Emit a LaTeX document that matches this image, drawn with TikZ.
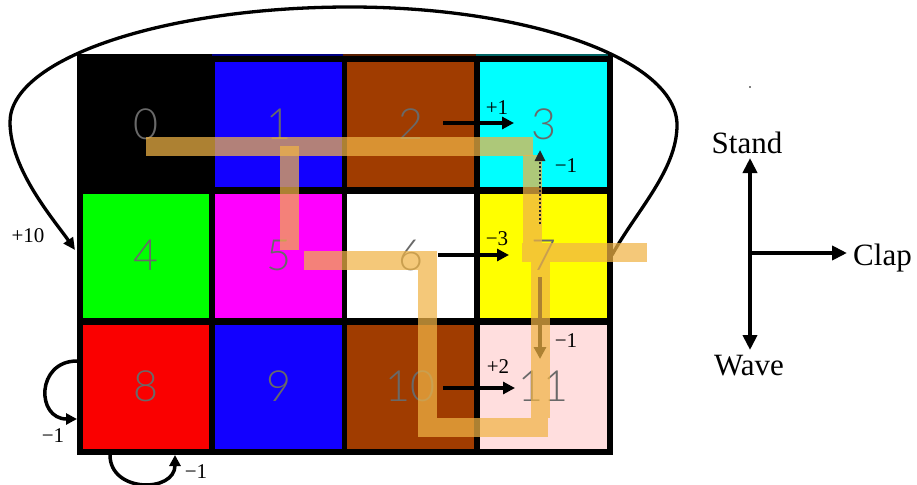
\documentclass[tikz,border=0pt]{standalone}
\usepackage{fontspec}
\setmainfont{Liberation Serif}
\newfontfamily\digitfont{Lato Light}
\usetikzlibrary{arrows.meta}
\definecolor{cblue}{RGB}{18,0,255}
\definecolor{cbrown}{RGB}{160,60,0}
\definecolor{ccyan}{RGB}{0,255,255}
\definecolor{cgreen}{RGB}{0,255,0}
\definecolor{cmag}{RGB}{255,0,255}
\definecolor{cyel}{RGB}{255,255,0}
\definecolor{cred}{RGB}{250,0,0}
\definecolor{cpink}{RGB}{255,222,222}
\definecolor{digitgray}{RGB}{105,105,105}
\definecolor{crayon}{RGB}{240,180,70}
\definecolor{edgeblue}{RGB}{0,0,130}
\definecolor{edgebrown}{RGB}{90,30,0}
\definecolor{edgeteal}{RGB}{0,100,100}
\begin{document}
\begin{tikzpicture}[x=1pt,y=-1pt,
  cell/.style={minimum width=126.5pt, minimum height=124pt, inner sep=0pt, outer sep=0pt,
    font=\digitfont\fontsize{43}{43}\selectfont, text=digitgray},
  arr/.style={line width=3.6pt, -{Triangle[length=12pt,width=12pt]}},
  legarr/.style={line width=4.2pt, -{Triangle[length=15pt,width=14pt]}},
  looparr/.style={line width=3.5pt, -{Triangle[length=11pt,width=11pt]}},
  crayonstroke/.style={line width=19pt, draw=crayon, opacity=0.72, line cap=butt},
  lbl/.style={font=\fontsize{21}{21}\selectfont, inner sep=0pt, anchor=base},
  leglbl/.style={font=\fontsize{31}{31}\selectfont, inner sep=0pt}
]
\useasboundingbox (0,0) rectangle (917,484);
\fill[white] (0,0) rectangle (917,484);

% grid frame
\fill[black] (77,54) rectangle (613,455);
\draw[line width=1.5pt, edgeblue] (212,55.2) -- (343,55.2);
\draw[line width=1.5pt, edgebrown] (343,55.2) -- (476,55.2);
\draw[line width=1.5pt, edgeteal] (476,55.2) -- (608,55.2);

% cells
\node[cell, fill=black] (c0) at (146,124.5) {0};
\node[cell, fill=cblue] (c1) at (278.5,124.5) {1};
\node[cell, fill=cbrown] (c2) at (410.5,124.5) {2};
\node[cell, fill=ccyan] (c3) at (543.5,124.5) {3};
\node[cell, fill=cgreen] (c4) at (146,255.5) {4};
\node[cell, fill=cmag] (c5) at (278.5,255.5) {5};
\node[cell, fill=white] (c6) at (410.5,255.5) {6};
\node[cell, fill=cyel] (c7) at (543.5,255.5) {7};
\node[cell, fill=cred] (c8) at (146,386.5) {8};
\node[cell, fill=cblue] (c9) at (278.5,386.5) {9};
\node[cell, fill=cbrown] (c10) at (410.5,386.5) {10};
\node[cell, fill=cpink] (c11) at (543.5,386.5) {11};

% transition arrows
\coordinate (a23s) at (443,123);
\coordinate (a23e) at (514,123);
\coordinate (a67s) at (438,255);
\coordinate (a67e) at (509,255);
\coordinate (a1011s) at (443,388);
\coordinate (a1011e) at (515,388);
\coordinate (a73s) at (540,224);
\coordinate (a73e) at (540,150);
\coordinate (a711s) at (540,277);
\coordinate (a711e) at (540,359);
\draw[arr] (a23s) -- (a23e);
\draw[arr] (a67s) -- (a67e);
\draw[arr] (a1011s) -- (a1011e);
\draw[arr] (a711s) -- (a711e);

% big loop from 7 back to 4
\coordinate (loopS) at (612,255);
\coordinate (loopE) at (75,250);
\draw[line width=3.3pt, -{Triangle[length=12pt,width=11pt]}] (loopS)
  .. controls (637,210) and (677,170) .. (677,125)
  .. controls (677,60) and (530,7) .. (350,7)
  .. controls (163,7) and (10,59) .. (10,122)
  .. controls (10,170) and (55,221) .. (loopE);

% self loops at 8
\coordinate (l1s) at (77,361);
\coordinate (l1e) at (77,419);
\draw[looparr] (l1s) .. controls (36,361) and (36,419) .. (l1e);
\coordinate (l2s) at (110,455);
\coordinate (l2e) at (175,455);
\draw[looparr] (l2s) .. controls (110,493) and (175,493) .. (l2e);

% crayon path
\draw[crayonstroke] (146,146) -- (533,146);
\draw[crayonstroke] (289,146) -- (289,250);
\draw[crayonstroke] (304,260) -- (427,260) -- (427,427) -- (548,427);
\draw[crayonstroke] (532,155) -- (532,243);
\draw[crayonstroke] (540,262) -- (540,418);
\draw[crayonstroke] (522,252) -- (647,252);

% dotted arrow 7 -> 3 (over the crayon)
\draw[line width=2.6pt, dash pattern=on 2.2pt off 1.8pt, black!85,
      -{Triangle[length=11pt,width=10pt]}] (a73s) -- (a73e);

% reward labels
\node[lbl] (r23) at (497,114) {+1};
\node[lbl] (r73) at (566,172) {−1};
\node[lbl] (r67) at (497,245) {−3};
\node[lbl] (r711) at (566,347) {−1};
\node[lbl] (r1011) at (498,373) {+2};
\node[lbl] (r74) at (28,242) {+10};
\node[lbl] (r88a) at (53,442) {−1};
\node[lbl] (r88b) at (196,478) {−1};

% legend
\node[circle, fill=black, inner sep=0pt, minimum size=1.6pt] (dot) at (750,87) {};
\coordinate (lg) at (750,253);
\coordinate (lgup) at (750,158);
\coordinate (lgdown) at (750,350);
\coordinate (lgright) at (847,253);
\node[leglbl, anchor=base] (stand) at (747,153) {Stand};
\node[leglbl, anchor=base west] (clap) at (853,265) {Clap};
\node[leglbl, anchor=base] (wave) at (749,375) {Wave};
\draw[legarr] (lg) -- (lgup);
\draw[legarr] (lg) -- (lgdown);
\draw[legarr] (lg) -- (lgright);
\end{tikzpicture}
\end{document}
